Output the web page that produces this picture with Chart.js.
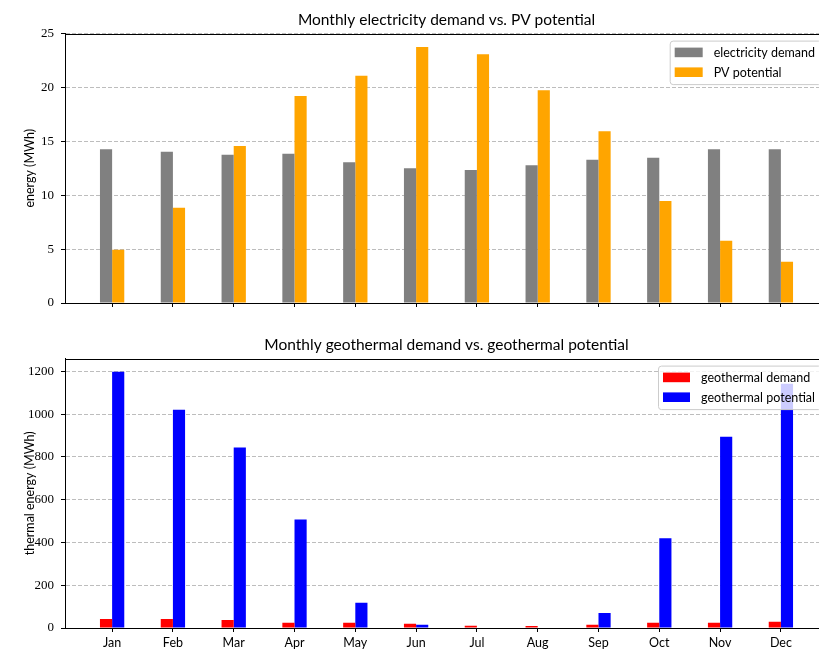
<!DOCTYPE html>
<html>
<head>
<meta charset="utf-8">
<script src="https://cdn.jsdelivr.net/npm/chart.js@4.4.0/dist/chart.umd.min.js"></script>
<style>
  html, body { margin: 0; padding: 0; background: #fff; overflow: hidden; }
  #wrap { position: relative; width: 819px; height: 652px; overflow: hidden; }
  canvas { position: absolute; left: 0; }
  #elec { top: 0; }
  #geo { top: 326px; }
</style>
</head>
<body>
<div id="wrap">
  <canvas id="elec" width="830" height="326"></canvas>
  <canvas id="geo" width="830" height="326"></canvas>
</div>
<script>
const MONTHS = ['Jan', 'Feb', 'Mar', 'Apr', 'May', 'Jun', 'Jul', 'Aug', 'Sep', 'Oct', 'Nov', 'Dec'];

// MWh
const ELEC_DEMAND = [14.26, 14.04, 13.76, 13.85, 13.06, 12.5, 12.34, 12.78, 13.3, 13.48, 14.26, 14.26];
const PV_POTENTIAL = [4.94, 8.83, 14.57, 19.2, 21.08, 23.76, 23.08, 19.75, 15.93, 9.47, 5.77, 3.82];

const GEO_DEMAND = [42, 42, 37, 25, 25, 20, 10, 9, 15, 25, 25, 29];
const GEO_POTENTIAL = [1198, 1021, 844, 508, 118, 15, 0, 0, 70, 420, 894, 1142];

const ELEC_Y_TICKS = [0, 5, 10, 15, 20, 25];
const GEO_Y_TICKS = [0, 200, 400, 600, 800, 1000, 1200];
const ELEC_Y_MAX = 25;
const GEO_Y_MAX = 1260;

const SANS = 'Lato, "Open Sans", sans-serif';
const SERIF = '"Liberation Serif", "DejaVu Serif", serif';

Chart.defaults.animation = false;
Chart.defaults.devicePixelRatio = 1;

function toPoints(values) {
    return values.map((v, i) => ({x: i, y: v}));
}

// axes box, matplotlib style (right side falls outside the window)
const framePlugin = {
    id: 'frame',
    afterDatasetsDraw(chart) {
        const {ctx, chartArea: a} = chart;
        ctx.save();
        ctx.strokeStyle = '#000';
        ctx.lineWidth = 1;
        ctx.strokeRect(Math.round(a.left) + 0.5, Math.round(a.top) + 0.5,
            Math.round(a.right - a.left), Math.round(a.bottom - a.top));
        ctx.restore();
    }
};

// framed legend in the upper right corner
const boxLegendPlugin = {
    id: 'boxLegend',
    afterDraw(chart, args, opts) {
        const {ctx, chartArea: a} = chart;
        const sets = chart.data.datasets;
        ctx.save();
        ctx.font = '12.5px ' + SANS;
        let textW = 0;
        sets.forEach(ds => { textW = Math.max(textW, ctx.measureText(ds.label).width); });
        const boxW = 5 + opts.patchW + 11 + textW + 6;
        const boxH = 43.5;
        const right = a.right - 7;
        const left = right - boxW;
        const top = a.top + 7;
        ctx.beginPath();
        ctx.roundRect(left + 0.5, top + 0.5, boxW, boxH, 3);
        ctx.fillStyle = 'rgba(255,255,255,0.8)';
        ctx.fill();
        ctx.strokeStyle = '#cccccc';
        ctx.lineWidth = 1;
        ctx.stroke();
        ctx.textBaseline = 'middle';
        ctx.textAlign = 'left';
        sets.forEach((ds, i) => {
            const cy = top + 11.8 + i * 19.8;
            ctx.fillStyle = ds.backgroundColor;
            ctx.fillRect(left + 5, cy - 4.8, opts.patchW, 9.6);
            ctx.fillStyle = '#000';
            ctx.fillText(ds.label, left + 5 + opts.patchW + 11, cy + 0.5);
        });
        ctx.restore();
    }
};

function makeChart(canvasId, cfg) {
    return new Chart(document.getElementById(canvasId), {
        type: 'bar',
        data: {
            datasets: cfg.series.map(s => ({
                label: s.label,
                data: toPoints(s.values),
                backgroundColor: s.color,
                borderWidth: 0,
                categoryPercentage: 0.4,
                barPercentage: 1.0
            }))
        },
        options: {
            responsive: false,
            layout: {padding: {left: 0, right: 2, top: 0, bottom: 0}},
            plugins: {
                legend: {display: false},
                tooltip: {enabled: false},
                title: {
                    display: true,
                    text: cfg.title,
                    fullSize: false,
                    color: '#000',
                    font: {family: SANS, size: 15.5, weight: 'normal'},
                    padding: cfg.titlePad
                },
                boxLegend: {patchW: cfg.patchW}
            },
            scales: {
                x: {
                    type: 'linear',
                    bounds: 'data',
                    offset: false,
                    min: -0.775,
                    max: 11.775,
                    afterBuildTicks: scale => { scale.ticks = MONTHS.map((m, i) => ({value: i})); },
                    afterFit: scale => { scale.height = cfg.xHeight; },
                    grid: {offset: false, drawOnChartArea: false, drawTicks: true, tickLength: 4, tickColor: '#000', color: '#000'},
                    border: {display: true, color: '#000', width: 1},
                    ticks: {
                        autoSkip: false,
                        maxRotation: 0,
                        padding: 3,
                        color: '#000',
                        font: {family: SANS, size: 12.5},
                        callback: v => cfg.showMonths ? MONTHS[v] : ' '
                    }
                },
                y: {
                    bounds: 'data',
                    min: 0,
                    max: cfg.yMax,
                    afterBuildTicks: scale => { scale.ticks = cfg.yTicks.map(v => ({value: v})); },
                    afterFit: scale => { scale.width = 65; },
                    grid: {color: '#bdbdbd', lineWidth: 1, tickLength: 4, tickColor: '#000', tickBorderDash: []},
                    border: {display: true, color: '#000', width: 1, dash: [4, 2]},
                    title: {
                        display: true,
                        text: cfg.yTitle,
                        color: '#000',
                        font: {family: SANS, size: 12.5},
                        padding: {top: 22, bottom: 0}
                    },
                    ticks: {
                        padding: 7,
                        color: '#000',
                        font: {family: SERIF, size: 13},
                        callback: v => String(v)
                    }
                }
            }
        },
        plugins: [framePlugin, boxLegendPlugin]
    });
}

makeChart('elec', {
    title: 'Monthly electricity demand vs. PV potential',
    titlePad: {top: 11, bottom: 4},
    yTitle: 'energy (MWh)',
    yMax: ELEC_Y_MAX,
    yTicks: ELEC_Y_TICKS,
    xHeight: 23,
    showMonths: false,
    patchW: 28,
    series: [
        {label: 'electricity demand', values: ELEC_DEMAND, color: '#808080'},
        {label: 'PV potential', values: PV_POTENTIAL, color: '#ffa500'}
    ]
});

makeChart('geo', {
    title: 'Monthly geothermal demand vs. geothermal potential',
    titlePad: {top: 10, bottom: 4},
    yTitle: 'thermal energy (MWh)',
    yMax: GEO_Y_MAX,
    yTicks: GEO_Y_TICKS,
    xHeight: 24,
    showMonths: true,
    patchW: 27,
    series: [
        {label: 'geothermal demand', values: GEO_DEMAND, color: '#ff0000'},
        {label: 'geothermal potential', values: GEO_POTENTIAL, color: '#0000ff'}
    ]
});
</script>
</body>
</html>
